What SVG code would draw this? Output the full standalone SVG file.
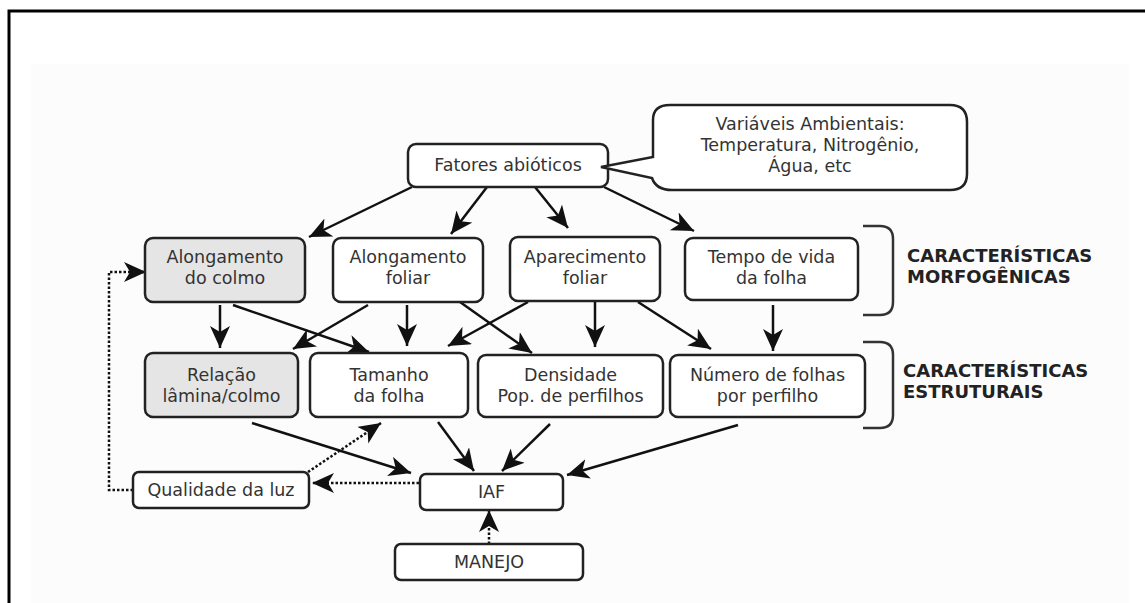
<svg xmlns="http://www.w3.org/2000/svg" width="1145" height="603" viewBox="0 0 1145 603">
<defs>
<style>
.box{fill:#fff;stroke:#222;stroke-width:2.5}
.gray{fill:#e5e5e5}
.t{font-family:"DejaVu Sans",Verdana,sans-serif;font-size:17.5px;fill:#333;text-anchor:middle}
.b{font-family:"DejaVu Sans",Verdana,sans-serif;font-size:18px;font-weight:bold;fill:#222}
.c{fill:none;stroke:#111;stroke-width:2.5}
.d{fill:none;stroke:#111;stroke-width:2.5;stroke-dasharray:2.5 2}
.br{fill:none;stroke:#333;stroke-width:2.5}
</style>
<marker id="ah" markerUnits="userSpaceOnUse" markerWidth="24" markerHeight="22" refX="22" refY="10" orient="auto">
<path d="M0,0 L22,10 L0,20 L6,10 Z" fill="#111"/>
</marker>
</defs>
<rect x="0" y="0" width="1145" height="603" fill="#fff"/>
<rect x="31" y="64" width="1098" height="539" fill="#fcfcfc"/>
<path d="M9,603 V11 H1145" fill="none" stroke="#000" stroke-width="3"/>

<g id="connectors">
<line class="c" x1="412" y1="187" x2="309" y2="237" marker-end="url(#ah)"/>
<line class="c" x1="487" y1="187" x2="451" y2="234" marker-end="url(#ah)"/>
<line class="c" x1="535" y1="187" x2="568" y2="228" marker-end="url(#ah)"/>
<line class="c" x1="604" y1="187" x2="694" y2="231" marker-end="url(#ah)"/>
<line class="c" x1="220" y1="305" x2="220" y2="348" marker-end="url(#ah)"/>
<line class="c" x1="233" y1="305" x2="369" y2="352" marker-end="url(#ah)"/>
<line class="c" x1="368" y1="305" x2="293" y2="349" marker-end="url(#ah)"/>
<line class="c" x1="407" y1="305" x2="407" y2="346" marker-end="url(#ah)"/>
<line class="c" x1="528" y1="302" x2="448" y2="346" marker-end="url(#ah)"/>
<line class="c" x1="460" y1="302" x2="532" y2="353" marker-end="url(#ah)"/>
<line class="c" x1="595" y1="302" x2="595" y2="347" marker-end="url(#ah)"/>
<line class="c" x1="638" y1="302" x2="711" y2="349" marker-end="url(#ah)"/>
<line class="c" x1="773" y1="305" x2="773" y2="351" marker-end="url(#ah)"/>
<line class="c" x1="252" y1="423" x2="411" y2="473" marker-end="url(#ah)"/>
<line class="c" x1="438" y1="422" x2="474" y2="471" marker-end="url(#ah)"/>
<line class="c" x1="550" y1="424" x2="502" y2="471" marker-end="url(#ah)"/>
<line class="c" x1="738" y1="425" x2="567" y2="475" marker-end="url(#ah)"/>
<line class="d" x1="419" y1="483" x2="312" y2="483" marker-end="url(#ah)"/>
<line class="d" x1="308" y1="472" x2="381" y2="423" marker-end="url(#ah)"/>
<path class="d" d="M133,490 H109 V272 H146" marker-end="url(#ah)"/>
<line class="d" x1="489" y1="544" x2="489" y2="510" marker-end="url(#ah)"/>
</g>

<g id="fatores">
<rect class="box" x="408" y="144" width="200" height="43" rx="8"/>
<text class="t" x="508" y="171">Fatores abióticos</text>
</g>

<g id="variaveis">
<path class="box" d="M670,105 H950 Q967,105 967,122 V174 Q967,190 950,190 H672 Q656,190 652,178 L601,167 L653,157 V120 Q653,105 670,105 Z"/>
<text class="t" x="810" y="130">Variáveis Ambientais:</text>
<text class="t" x="810" y="151">Temperatura, Nitrogênio,</text>
<text class="t" x="810" y="172">Água, etc</text>
</g>

<g id="along-colmo">
<rect class="box gray" x="145" y="238" width="160" height="64" rx="8"/>
<text class="t" x="225" y="263">Alongamento</text>
<text class="t" x="225" y="284">do colmo</text>
</g>
<g id="along-foliar">
<rect class="box" x="333" y="238" width="150" height="64" rx="8"/>
<text class="t" x="408" y="263">Alongamento</text>
<text class="t" x="408" y="284">foliar</text>
</g>
<g id="aparecimento">
<rect class="box" x="510" y="237" width="150" height="64" rx="8"/>
<text class="t" x="585" y="263">Aparecimento</text>
<text class="t" x="585" y="284">foliar</text>
</g>
<g id="tempo">
<rect class="box" x="685" y="238" width="173" height="62" rx="8"/>
<text class="t" x="771.5" y="263">Tempo de vida</text>
<text class="t" x="771.5" y="284">da folha</text>
</g>

<g id="relacao">
<rect class="box gray" x="145" y="353" width="153" height="64" rx="8"/>
<text class="t" x="221.5" y="381">Relação</text>
<text class="t" x="221.5" y="402">lâmina/colmo</text>
</g>
<g id="tamanho">
<rect class="box" x="310" y="353" width="158" height="64" rx="8"/>
<text class="t" x="389" y="381">Tamanho</text>
<text class="t" x="389" y="402">da folha</text>
</g>
<g id="densidade">
<rect class="box" x="478" y="355" width="185" height="62" rx="8"/>
<text class="t" x="570.5" y="381">Densidade</text>
<text class="t" x="570.5" y="402">Pop. de perfilhos</text>
</g>
<g id="numero">
<rect class="box" x="670" y="355" width="195" height="62" rx="8"/>
<text class="t" x="767.5" y="381">Número de folhas</text>
<text class="t" x="767.5" y="402">por perfilho</text>
</g>

<g id="qualidade">
<rect class="box" x="133" y="472" width="176" height="36" rx="6"/>
<text class="t" x="221" y="496">Qualidade da luz</text>
</g>
<g id="iaf">
<rect class="box" x="420" y="474" width="143" height="36" rx="6"/>
<text class="t" x="491.5" y="498">IAF</text>
</g>
<g id="manejo">
<rect class="box" x="395" y="544" width="188" height="36" rx="6"/>
<text class="t" x="489" y="568">MANEJO</text>
</g>

<g id="brackets">
<path class="br" d="M863,226 H880 Q893,226 893,239 V302 Q893,315 880,315 H863"/>
<path class="br" d="M863,342 H880 Q893,342 893,355 V415 Q893,428 880,428 H863"/>
<text class="b" x="907" y="262">CARACTERÍSTICAS</text>
<text class="b" x="907" y="283">MORFOGÊNICAS</text>
<text class="b" x="903" y="377">CARACTERÍSTICAS</text>
<text class="b" x="903" y="398">ESTRUTURAIS</text>
</g>
</svg>
